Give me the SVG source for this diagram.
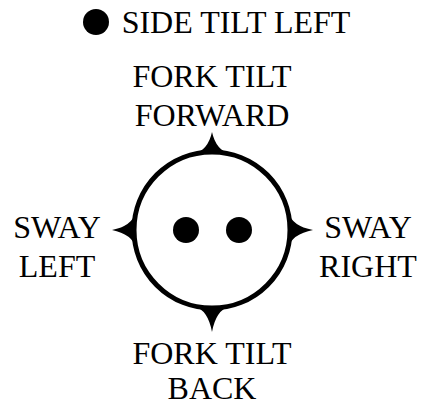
<svg xmlns="http://www.w3.org/2000/svg" width="428" height="406" viewBox="0 0 428 406">
<style>
text{font-family:"Liberation Serif","Times New Roman",serif;font-size:32px;fill:#000;text-anchor:middle}
.spike{fill:#000;stroke:none}
</style>
<rect width="428" height="406" fill="#fff"/>
<g id="legend">
<circle cx="96" cy="22" r="13" fill="#000"/>
<text x="236" y="33">SIDE TILT LEFT</text>
</g>
<g id="joystick">
<circle cx="212" cy="230" r="78" fill="#fff" stroke="#000" stroke-width="5"/>
<circle cx="186" cy="230" r="13" fill="#000"/>
<circle cx="239" cy="230" r="13" fill="#000"/>
</g>
<g id="connectors">
<path class="spike" d="M194,154 Q208,150 212,132 Q216,150 230,154 Z"/>
<path class="spike" d="M194,306 Q208,310 212,332 Q216,310 230,306 Z"/>
<path class="spike" d="M136,212 Q132,226 112,230 Q132,234 136,248 Z"/>
<path class="spike" d="M288,212 Q292,226 313,230 Q292,234 288,248 Z"/>
</g>
<g id="forward"><text x="212" y="87">FORK TILT</text><text x="212" y="126">FORWARD</text></g>
<g id="back"><text x="212" y="364">FORK TILT</text><text x="212" y="399">BACK</text></g>
<g id="swayleft"><text x="57" y="238">SWAY</text><text x="57" y="277">LEFT</text></g>
<g id="swayright"><text x="368" y="238">SWAY</text><text x="368" y="277">RIGHT</text></g>
</svg>
